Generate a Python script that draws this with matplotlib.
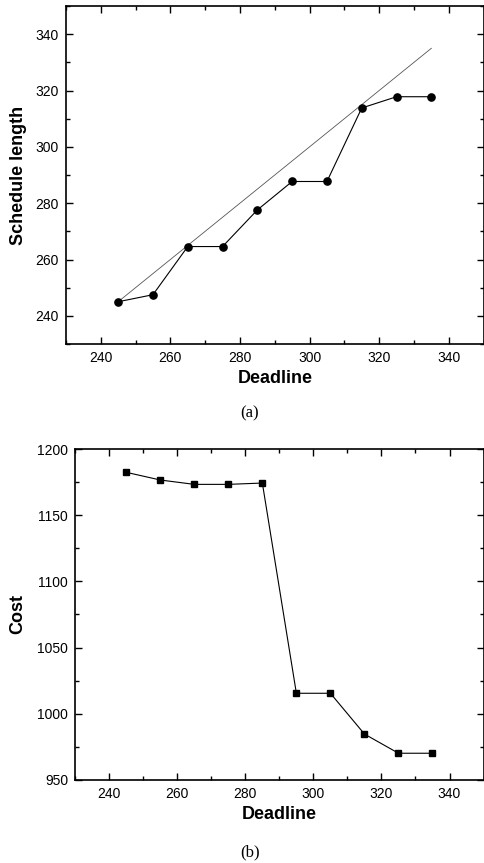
import matplotlib
matplotlib.use("Agg")
import matplotlib.pyplot as plt
from matplotlib.ticker import MultipleLocator

plt.rcParams["font.family"] = ["Liberation Sans", "DejaVu Sans"]

deadline = [245, 255, 265, 275, 285, 295, 305, 315, 325, 335]
sched_len = [245, 247.5, 264.6, 264.6, 277.6, 287.7, 287.7, 313.8, 317.8, 317.8]
cost = [1182.4, 1176.6, 1173.3, 1173.3, 1174.3, 1015.5, 1015.5, 984.7, 970.2, 970.2]


def style_axes(ax, xmaj, xmin, ymaj, ymin):
    ax.xaxis.set_major_locator(MultipleLocator(xmaj))
    ax.xaxis.set_minor_locator(MultipleLocator(xmin))
    ax.yaxis.set_major_locator(MultipleLocator(ymaj))
    ax.yaxis.set_minor_locator(MultipleLocator(ymin))
    ax.tick_params(which="both", direction="in", top=True, right=True,
                   labelsize=10, width=1.0)
    ax.tick_params(which="major", length=5, pad=5)
    ax.tick_params(which="minor", length=3)
    for s in ax.spines.values():
        s.set_linewidth(1.2)


fig = plt.figure(figsize=(4.85, 8.63), dpi=100)

# (a) schedule length vs deadline
ax1 = fig.add_axes([0.136, 0.6014, 0.861, 0.3916])
ax1.plot([deadline[0], deadline[-1]], [deadline[0], deadline[-1]],
         color="#555555", lw=0.6)
ax1.plot(deadline, sched_len, color="black", lw=0.8, marker="o", ms=5.2)
ax1.set_xlim(230, 350)
ax1.set_ylim(230, 350)
style_axes(ax1, 20, 10, 20, 10)
ax1.set_xlabel("Deadline", fontsize=13, fontweight="bold", labelpad=4)
ax1.set_ylabel("Schedule length", fontsize=13, fontweight="bold", labelpad=6)
fig.text(0.515, 1 - 413 / 863, "(a)", family="Liberation Serif",
         fontsize=12, ha="center", va="center")

# (b) cost vs deadline
ax2 = fig.add_axes([0.155, 0.0962, 0.842, 0.3835])
ax2.plot(deadline, cost, color="black", lw=0.8, marker="s", ms=4.3)
ax2.set_xlim(230, 350)
ax2.set_ylim(950, 1200)
style_axes(ax2, 20, 10, 50, 25)
ax2.set_xlabel("Deadline", fontsize=13, fontweight="bold", labelpad=4)
ax2.set_ylabel("Cost", fontsize=13, fontweight="bold", labelpad=8)
fig.text(0.515, 1 - 852 / 863, "(b)", family="Liberation Serif",
         fontsize=12, ha="center", va="center")

fig.savefig("out.png", dpi=100)
